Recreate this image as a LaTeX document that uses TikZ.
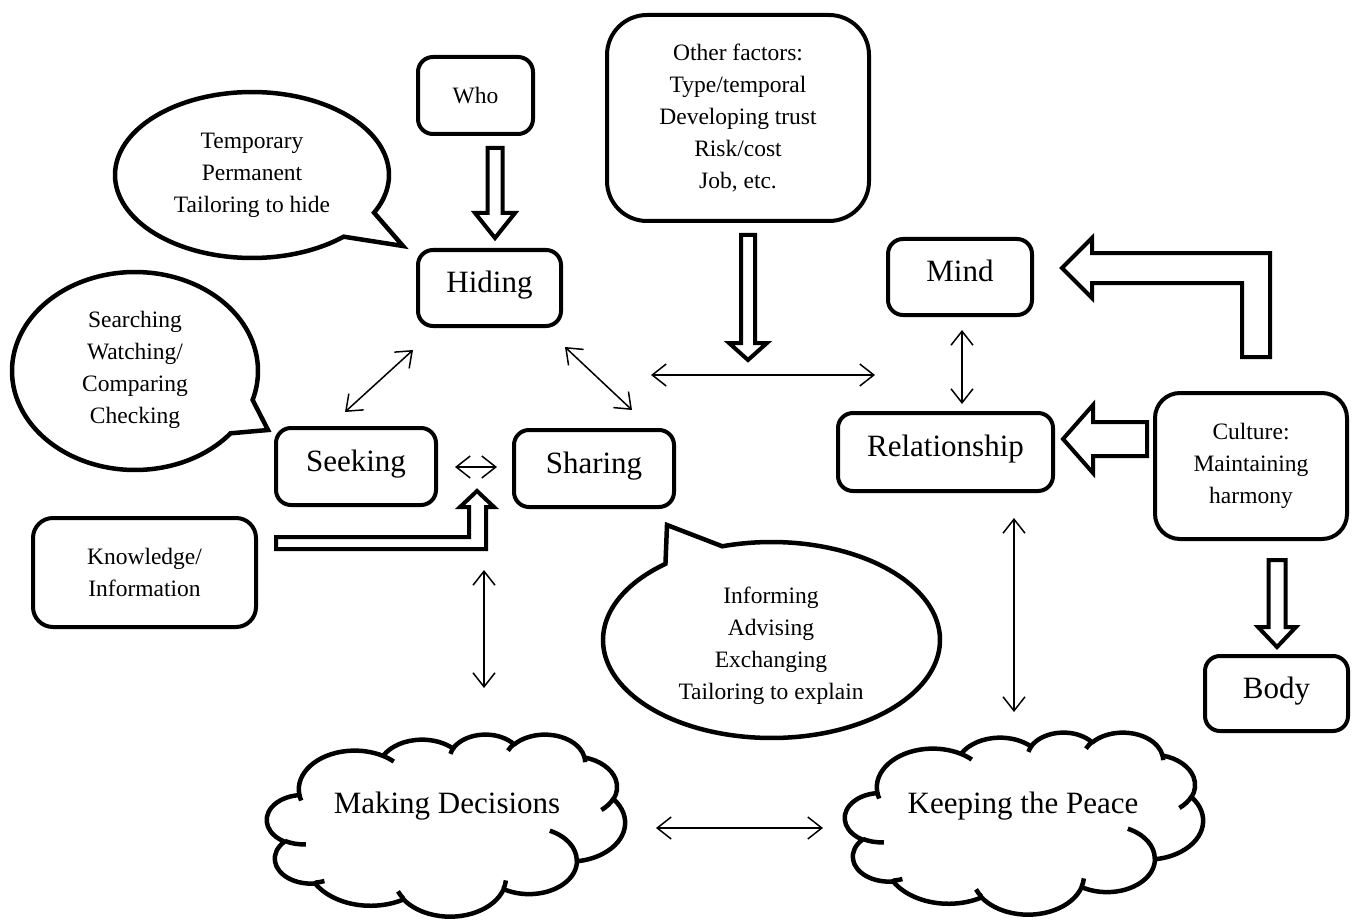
\documentclass[tikz,border=0pt]{standalone}
\usepackage{fontspec}
\setmainfont{Liberation Serif}
\usetikzlibrary{arrows.meta}
\newcommand\mkcarc[5]{%
  \pgfmathsetmacro\cA{atan2((#2)*sin(#4),(#3)*cos(#4))}%
  \pgfmathsetmacro\cB{atan2((#2)*sin((#4)+(#5)),(#3)*cos((#4)+(#5)))}%
  \pgfmathsetmacro\cB{\cA+Mod(\cB-\cA,360)}%
  \expandafter\xdef\csname cs#1\endcsname{\cA}%
  \expandafter\xdef\csname ce#1\endcsname{\cB}%
  \expandafter\xdef\csname cw#1\endcsname{#2}%
  \expandafter\xdef\csname ch#1\endcsname{#3}%
}
\newcommand\carc[1]{arc[start angle=\csname cs#1\endcsname,end angle=\csname ce#1\endcsname,x radius=\csname cw#1\endcsname,y radius=\csname ch#1\endcsname]}
\newcommand\cloudshape{%
 \draw[cloudline,fill=white] (390,1437) \carc{1} \carc{2} \carc{3} \carc{4} \carc{5} \carc{6} \carc{7} \carc{8} \carc{9} \carc{10} \carc{11} -- cycle;
 \draw[cloudline] (469.3,2617.7) \carc{a} (692.8,3489.9) \carc{b} (1647.8,3909.0) \carc{c} (2882.7,3475.1) \carc{d} (3412.9,2295.4) \carc{e} (4179.8,1535.4) \carc{f} (3832.4,542.6) \carc{g} (2907.8,395.2) \carc{h} (2214.1,472.0) \carc{i} (1400.0,519.2) \carc{j} (412.7,1578.9) \carc{k};
}
\begin{document}
\begin{tikzpicture}[x=1pt,y=-1pt,
  box/.style={draw,line width=4pt,rounded corners=15pt,align=center,inner sep=0pt,fill=white},
  big/.style={font=\fontsize{31}{36}\selectfont,text height=22pt,text depth=13pt},
  small/.style={font=\fontsize{23.5}{32}\selectfont,align=center},
  dbl/.style={line width=1.5pt,{Straight Barb[length=14pt,width=22pt]}-{Straight Barb[length=14pt,width=22pt]}},
  block/.style={draw,line width=4pt,fill=white,line join=miter},
  bubble/.style={draw,line width=4.5pt,fill=white,line join=miter},
  cloudline/.style={line width=4.5pt,line join=round}]
\fill[white] (0,0) rectangle (1352,920);
\useasboundingbox (0,0) rectangle (1352,920);

\mkcarc{1}{675.3}{919.0}{-190.4875}{123.7805}
\mkcarc{2}{533.3}{726.7}{-144.1024}{89.9452}
\mkcarc{3}{436.5}{594.5}{-145.8079}{99.7230}
\mkcarc{4}{485.7}{659.5}{-130.9861}{117.2417}
\mkcarc{5}{533.3}{727.3}{-78.7089}{109.0269}
\mkcarc{6}{677.5}{922.0}{-46.2673}{130.2690}
\mkcarc{7}{578.5}{786.7}{0.6250}{114.0333}
\mkcarc{8}{675.2}{921.5}{22.4516}{115.1726}
\mkcarc{9}{772.0}{1054.3}{66.2426}{75.7110}
\mkcarc{10}{436.0}{591.8}{-274.9421}{146.7356}
\mkcarc{11}{434.5}{594.5}{-246.8285}{152.5189}
\mkcarc{a}{434.5}{594.5}{86.7420}{26.4295}
\mkcarc{b}{436.0}{591.8}{73.6105}{11.4475}
\mkcarc{c}{675.2}{921.5}{137.6242}{14.0811}
\mkcarc{d}{675.2}{921.5}{6.4533}{15.9984}
\mkcarc{e}{578.5}{786.7}{-70.2924}{70.9174}
\mkcarc{f}{533.3}{727.3}{30.3180}{27.7515}
\mkcarc{g}{485.7}{659.5}{-13.7443}{14.8589}
\mkcarc{h}{485.7}{659.5}{-149.1815}{18.1954}
\mkcarc{i}{436.5}{594.5}{-163.4943}{17.6864}
\mkcarc{j}{675.3}{919.0}{-66.7070}{12.3194}
\mkcarc{k}{675.3}{919.0}{157.6544}{11.8582}

% boxes
\node[box,small,minimum width=115pt,minimum height=77pt] (who) at (475.5,95.5) {Who};
\node[box,big,minimum width=143pt,minimum height=76pt] (hiding) at (489.5,288) {Hiding};
\node[box,small,rounded corners=40pt,minimum width=262pt,minimum height=206pt] (other) at (738,118) {};
\node[small] (othert) at (738,118) {Other factors:\\Type/temporal\\Developing trust\\Risk/cost\\Job, etc.};
\node[box,big,minimum width=144pt,minimum height=76pt] (mind) at (960,277) {Mind};
\node[box,big,minimum width=215pt,minimum height=78pt] (rel) at (945.5,452) {Relationship};
\node[box,big,minimum width=160pt,minimum height=77pt] (seeking) at (356,466.5) {Seeking};
\node[box,big,minimum width=160pt,minimum height=77pt] (sharing) at (594,468.5) {Sharing};
\node[box,small,rounded corners=25pt,minimum width=192pt,minimum height=146pt] (culture) at (1251,466) {Culture:\\Maintaining\\harmony};
\node[box,big,minimum width=143pt,minimum height=75pt] (body) at (1276.5,693.5) {Body};
\node[box,small,rounded corners=20pt,minimum width=223pt,minimum height=109pt] (know) at (144.5,572.5) {Knowledge/\\Information};

% speech bubbles
\draw[bubble] plot[domain=48:387,samples=150] ({252+137*cos(\x)},{175+83*sin(\x)}) -- (403,246) -- cycle;
\node[small] (bub1) at (252,175) {Temporary\\Permanent\\Tailoring to hide};
\draw[bubble] plot[domain=39:377,samples=150] ({135+123*cos(\x)},{371+99*sin(\x)}) -- (268,430) -- cycle;
\node[small] (bub2) at (135,370) {Searching\\Watching/\\Comparing\\Checking};
\draw[bubble] plot[domain=253:591,samples=150] ({771.5+168.5*cos(\x)},{640+98*sin(\x)}) -- (667,525) -- cycle;
\node[small] (bub3) at (771,646) {Informing\\Advising\\Exchanging\\Tailoring to explain};

% clouds
\begin{scope}[shift={(267,734)},x=0.08287pt,y=-0.04213pt]
\cloudshape
\end{scope}
\node[font=\fontsize{31}{36}\selectfont] (md) at (447,806) {Making Decisions};
\begin{scope}[shift={(845,732)},x=0.08287pt,y=-0.04213pt]
\cloudshape
\end{scope}
\node[font=\fontsize{31}{36}\selectfont] (kp) at (1023,806) {Keeping the Peace};

% block arrows
\draw[block] (487.5,148) -- (502.5,148) -- (502.5,213) -- (515,213) -- (495,238) -- (475,213) -- (487.5,213) -- cycle;
\draw[block] (741,235) -- (755,235) -- (755,343) -- (767,343) -- (748,360) -- (729,343) -- (741,343) -- cycle;
\draw[block] (1268.5,560) -- (1285.5,560) -- (1285.5,627) -- (1296,627) -- (1277,647) -- (1258,627) -- (1268.5,627) -- cycle;
\draw[block] (1062,268) -- (1092,238) -- (1092,253) -- (1270,253) -- (1270,357) -- (1242,357) -- (1242,283) -- (1092,283) -- (1092,298) -- cycle;
\draw[block] (1063,439) -- (1093,405) -- (1093,422) -- (1147,422) -- (1147,456) -- (1093,456) -- (1093,473) -- cycle;
\draw[block] (276,537) -- (469,537) -- (469,507) -- (460,507) -- (477,491) -- (494,507) -- (486,507) -- (486,549) -- (276,549) -- cycle;

% thin double arrows
\coordinate (hs1) at (413,350); \coordinate (hs2) at (345,412);
\coordinate (hsh1) at (565,347); \coordinate (hsh2) at (632,410);
\coordinate (ss1) at (455,467); \coordinate (ss2) at (497,467);
\coordinate (sm1) at (484,570); \coordinate (sm2) at (484,688);
\coordinate (rk1) at (1014,518); \coordinate (rk2) at (1014,712);
\coordinate (mk1) at (656,828); \coordinate (mk2) at (823,828);
\coordinate (mr1) at (962,330); \coordinate (mr2) at (962,404);
\coordinate (of1) at (651,375); \coordinate (of2) at (875,375);
\draw[dbl] (hs1) -- (hs2);
\draw[dbl] (hsh1) -- (hsh2);
\draw[dbl] (ss1) -- (ss2);
\draw[dbl] (sm1) -- (sm2);
\draw[dbl] (rk1) -- (rk2);
\draw[dbl] (mk1) -- (mk2);
\draw[dbl] (mr1) -- (mr2);
\draw[dbl] (of1) -- (of2);
\end{tikzpicture}
\end{document}
